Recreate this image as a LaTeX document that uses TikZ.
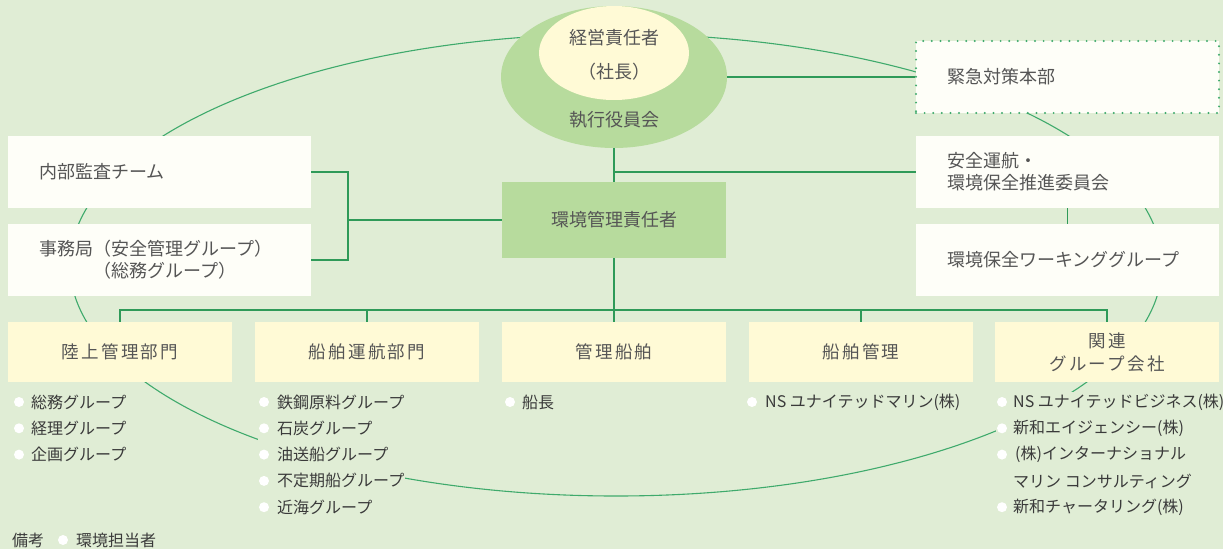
\documentclass[tikz,border=0pt]{standalone}
\usepackage{fontspec}
\setmainfont{Noto Sans CJK JP}
\usetikzlibrary{shapes.geometric,calc}
\definecolor{bg}{HTML}{E0EDD5}
\definecolor{lg}{HTML}{3FAA6C}
\definecolor{cg}{HTML}{2F9A58}
\definecolor{gfill}{HTML}{B7DB9D}
\definecolor{cream}{HTML}{FFFAD6}
\definecolor{wfill}{HTML}{FEFEF8}
\definecolor{tgray}{HTML}{555555}
\definecolor{tdark}{HTML}{3A3A3A}
\begin{document}
\begin{tikzpicture}[x=1pt,y=-1pt,
  ellline/.style={draw=lg, line width=1.1pt},
  conn/.style={draw=cg, line width=1.4pt},
  wbox/.style={rectangle, fill=wfill, inner xsep=31.5pt, inner ysep=0pt, text width=240pt, align=left, minimum height=72pt, font=\fontsize{18}{22}\selectfont, text=tgray},
  ybox/.style={rectangle, fill=cream, inner sep=0pt, minimum width=224pt, minimum height=60pt, align=center, font=\fontsize{17.5}{23}\selectfont\addfontfeature{LetterSpace=13}, text=tgray},
  item/.style={anchor=west, inner sep=0pt, font=\fontsize{16}{18}\selectfont, text=tdark},
  bullet/.style={circle, fill=white, inner sep=0pt, minimum size=10pt},
  cover/.style={fill=bg, draw=none}
]
\useasboundingbox (0,0) rectangle (1223,549);
\fill[bg] (0,0) rectangle (1223,549);

% big surrounding ellipse
\draw[ellline] (616,265) ellipse [x radius=546pt, y radius=231pt];
% areas of the lists that hide the ellipse line
\fill[cover] (258,392) rectangle (405,520);
\fill[cover] (996,392) rectangle (1219,520);

% top: executive ellipse
\node[ellipse, fill=gfill, minimum width=226pt, minimum height=142pt, inner sep=0pt] (exec) at (614,77) {};
\node[ellipse, fill=cream, minimum width=150pt, minimum height=94pt, inner sep=0pt] (ceo) at (614,53) {};
\node[inner sep=0pt, align=center, font=\fontsize{18}{34}\selectfont, text=tgray] (ceot) at (614,55) {経営責任者\\（社長）};
\node[inner sep=0pt, font=\fontsize{18}{20}\selectfont, text=tgray] (yakuin) at (614,120) {執行役員会};

% right boxes
\node[wbox, draw=lg, line width=2.2pt, dash pattern=on 0pt off 8.6pt, line cap=round] (kinkyu) at (1067.5,77) {緊急対策本部};
\node[wbox] (anzen) at (1067.5,172) {安全運航・\\環境保全推進委員会};
\node[wbox] (working) at (1067.5,260) {環境保全ワーキンググループ};

% left boxes
\node[wbox] (naibu) at (159.5,172) {内部監査チーム};
\node[wbox] (jimu) at (159.5,260) {事務局（安全管理グループ）\\\hspace*{3em}（総務グループ）};

% central box
\node[rectangle, fill=gfill, minimum width=224pt, minimum height=76pt, inner sep=0pt, font=\fontsize{18}{20}\selectfont, text=tgray] (env) at (614,220) {環境管理責任者};

% bottom boxes
\node[ybox] (riku) at (120,352) {陸上管理部門};
\node[ybox] (unko) at (367,352) {船舶運航部門};
\node[ybox] (kanri) at (614,352) {管理船舶};
\node[ybox] (senkan) at (861,352) {船舶管理};
\node[ybox] (kanren) at (1107,352) {関連\\グループ会社};

% connectors
\coordinate (jn) at (348,220);
\coordinate (bus) at (614,310);
\draw[conn] (exec.south) -- (env.north);
\draw[conn] (exec.east) -- (exec.east -| kinkyu.west);
\draw[conn] (anzen.west) -- (anzen.west -| env.north);
\draw[conn] (anzen.south) -- (working.north);
\draw[conn] (naibu.east) -| (jn) |- (jimu.east);
\draw[conn] (jn) -- (env.west);
\draw[conn] (env.south) -- (bus);
\draw[conn] (riku.north) -- (riku.north |- bus) -- (kanren.north |- bus) -- (kanren.north);
\draw[conn] (unko.north) -- (unko.north |- bus);
\draw[conn] (kanri.north) -- (kanri.north |- bus);
\draw[conn] (senkan.north) -- (senkan.north |- bus);

% lists
\foreach \t [count=\i] in {総務グループ,経理グループ,企画グループ}{
  \node[bullet] (rb\i) at (19,{402+26.3*(\i-1)}) {};
  \node[item] (ri\i) at (31,{402+26.3*(\i-1)}) {\t};
}
\foreach \t [count=\i] in {鉄鋼原料グループ,石炭グループ,油送船グループ,不定期船グループ,近海グループ}{
  \node[bullet] (ub\i) at (264,{402+26.3*(\i-1)}) {};
  \node[item] (ui\i) at (277,{402+26.3*(\i-1)}) {\t};
}
\node[bullet] (kb1) at (510,402) {};
\node[item] (ki1) at (522,402) {船長};
\node[bullet] (sb1) at (752,402) {};
\node[item] (si1) at (765,402) {NS ユナイテッドマリン(株)};
\node[bullet] (gb1) at (1002,402) {};
\node[item] (gi1) at (1013,402) {NS ユナイテッドビジネス(株)};
\node[bullet] (gb2) at (1002,428.3) {};
\node[item] (gi2) at (1013,428.3) {新和エイジェンシー(株)};
\node[bullet] (gb3) at (1002,454.6) {};
\node[item] (gi3) at (1015,454.6) {(株)インターナショナル};
\node[item] (gi4) at (1013,480.9) {マリン コンサルティング};
\node[bullet] (gb5) at (1002,507.2) {};
\node[item] (gi5) at (1013,507.2) {新和チャータリング(株)};

% note
\node[item] (biko) at (12,540) {備考};
\node[bullet] (bb) at (63,540) {};
\node[item] (bikot) at (76,540) {環境担当者};
\end{tikzpicture}
\end{document}
